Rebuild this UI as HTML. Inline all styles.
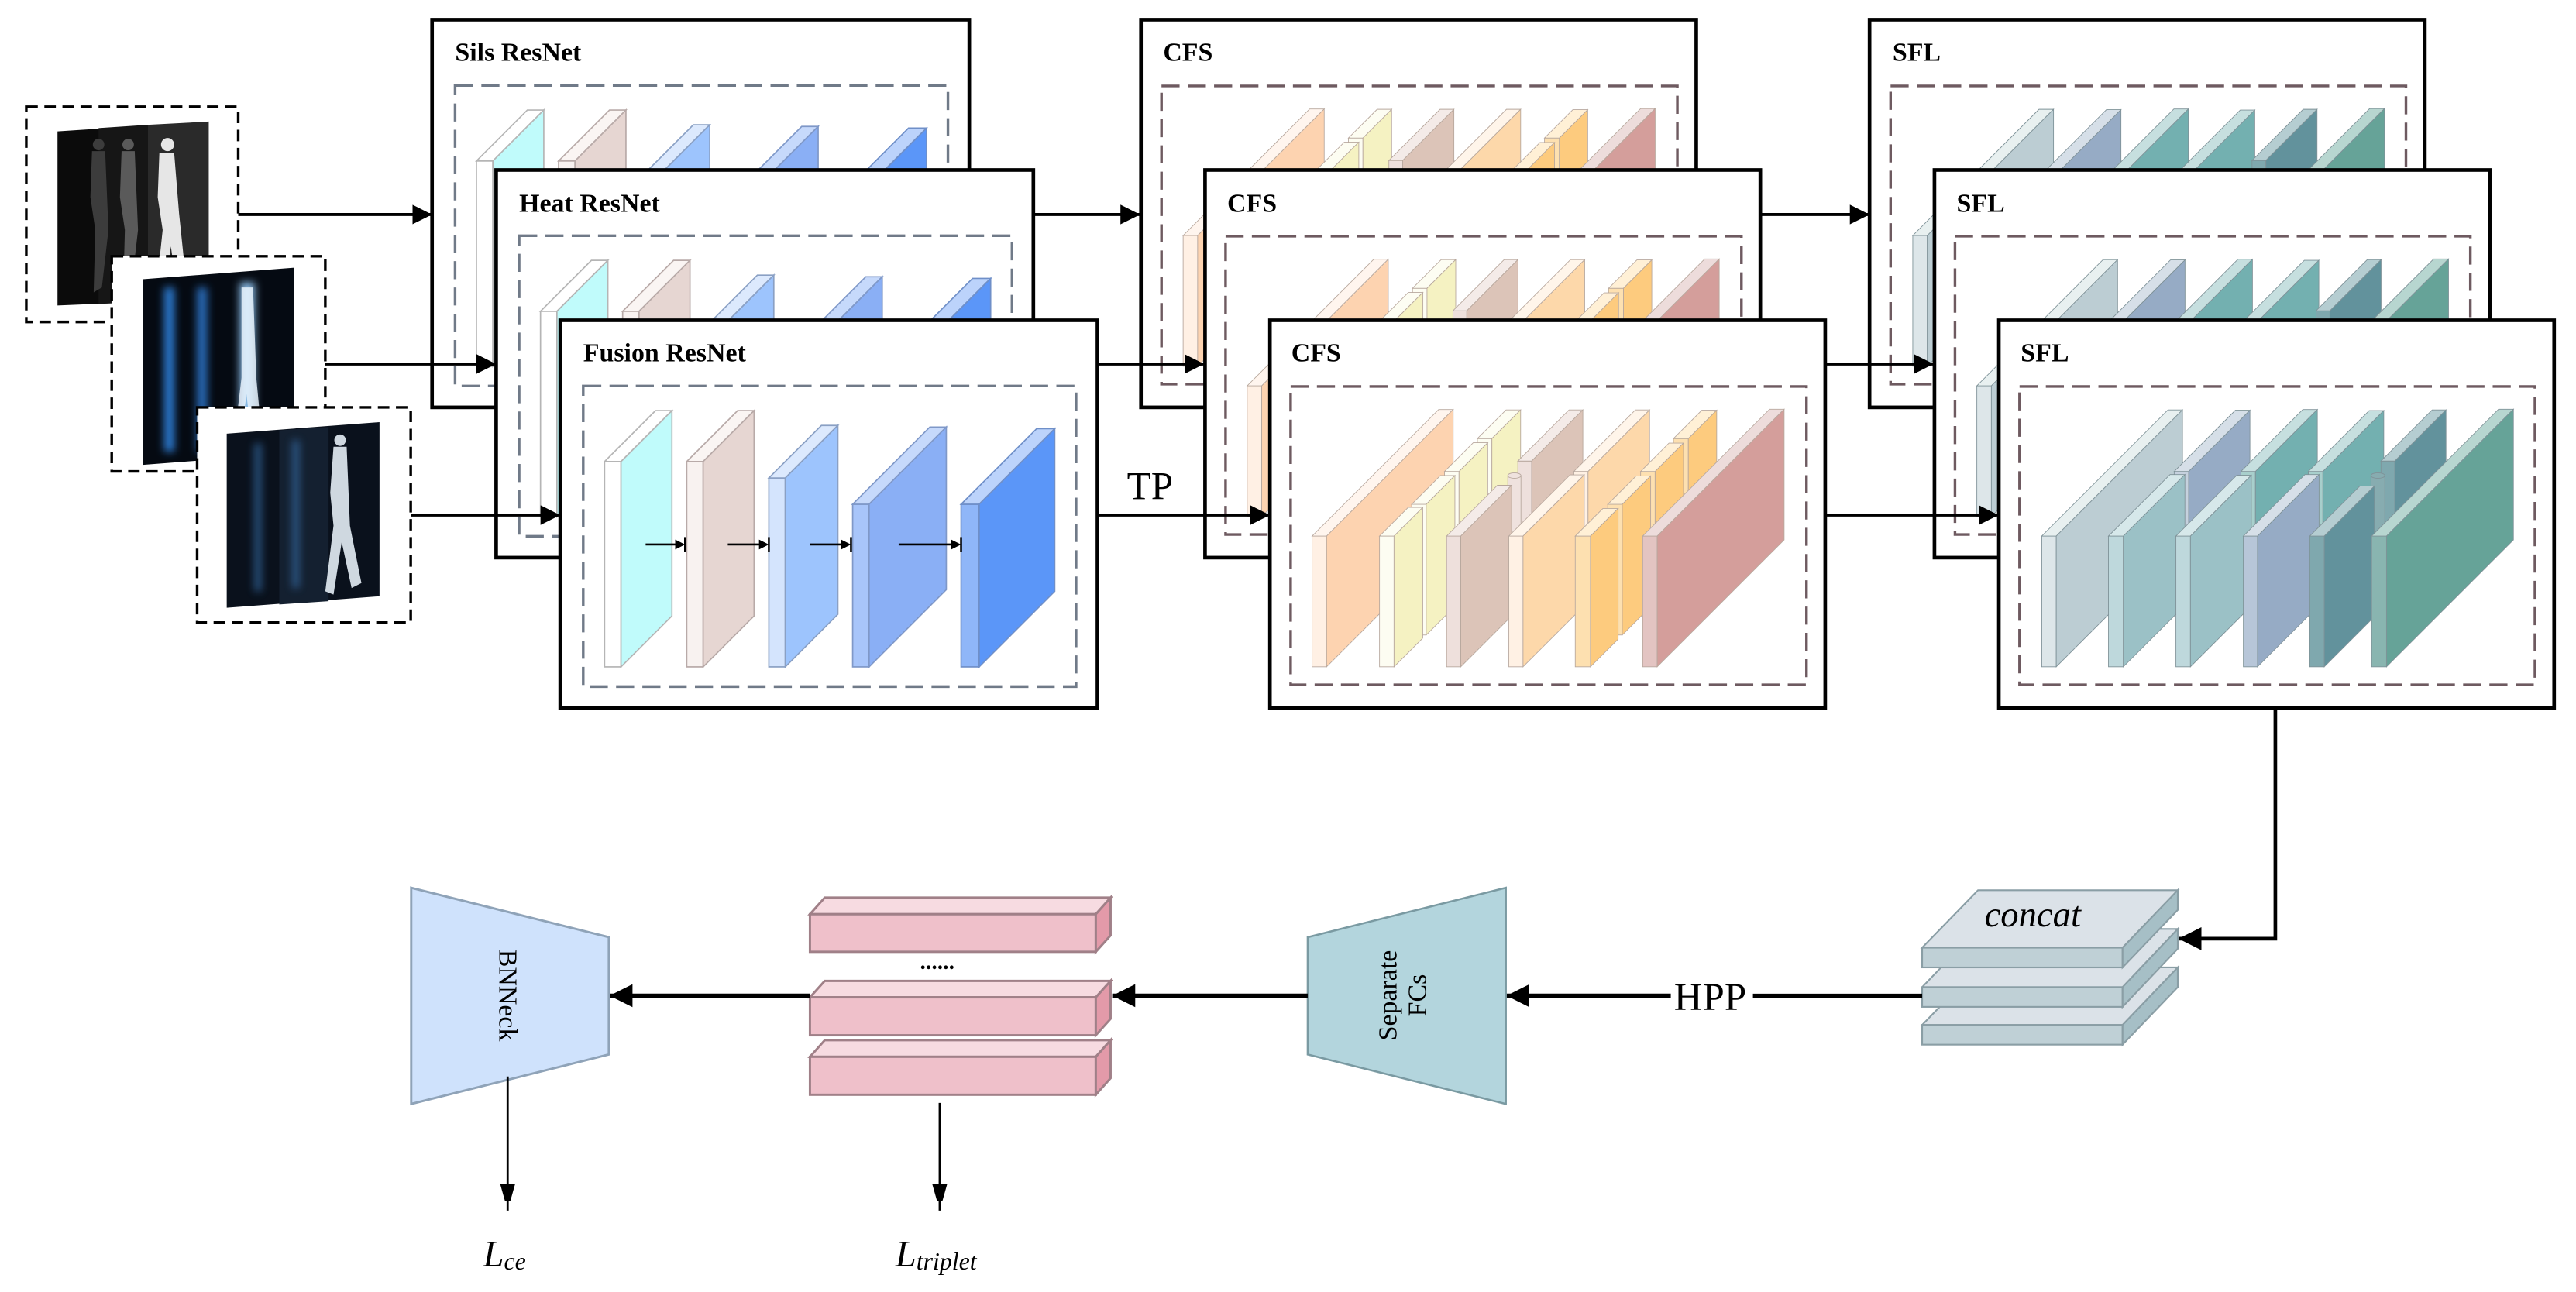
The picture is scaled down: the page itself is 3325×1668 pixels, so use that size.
<!DOCTYPE html>
<html><head><meta charset="utf-8"><style>
html,body{margin:0;padding:0;background:#fff;}
svg{display:block;}
text{font-family:"Liberation Serif",serif;}
</style></head><body>
<svg width="3325" height="1668" viewBox="0 0 1568 786.6" xmlns="http://www.w3.org/2000/svg">
<defs>
<marker id="ah" markerUnits="userSpaceOnUse" markerWidth="13" markerHeight="13" refX="12" refY="6" orient="auto"><path d="M0,0 L12,6 L0,12 z" fill="#000"/></marker>
<marker id="ahb" markerUnits="userSpaceOnUse" markerWidth="16" markerHeight="16" refX="14" refY="7" orient="auto"><path d="M0,0 L14,7 L0,14 z" fill="#000"/></marker>
<marker id="ahn" markerUnits="userSpaceOnUse" markerWidth="10" markerHeight="18" refX="16" refY="4.5" orient="auto"><path d="M0,0 L16,4.5 L0,9 z" fill="#000"/></marker>
<filter id="bl" x="-50%" y="-50%" width="200%" height="200%"><feGaussianBlur stdDeviation="2.5"/></filter>

<g id="rn" stroke-width="0.8">
 <g stroke="#b5b5b5"><rect x="368" y="281" width="10" height="125" fill="#ffffff"/><polygon points="368,281 399,250 409,250 378,281" fill="#ffffff"/><polygon points="378,281 409,250 409,375 378,406" fill="#c0fbfb"/></g>
 <g stroke="#b8aaa8"><rect x="418" y="281" width="10" height="125" fill="#f8f2f0"/><polygon points="418,281 449,250 459,250 428,281" fill="#faf5f3"/><polygon points="428,281 459,250 459,375 428,406" fill="#e6d6d2"/></g>
 <g stroke="#8aa0c4"><rect x="468" y="291" width="10" height="115" fill="#d4e4fd"/><polygon points="468,291 500,259 510,259 478,291" fill="#dce9fd"/><polygon points="478,291 510,259 510,374 478,406" fill="#9dc4fd"/></g>
 <g stroke="#7f98c8"><rect x="519" y="307" width="10" height="99" fill="#a8c5fa"/><polygon points="519,307 566,260 576,260 529,307" fill="#c6d9fb"/><polygon points="529,307 576,260 576,359 529,406" fill="#8aaff5"/></g>
 <g stroke="#6f8fc8"><rect x="585" y="307" width="11" height="99" fill="#8fb6f8"/><polygon points="585,307 631,261 642,261 596,307" fill="#bcd3fb"/><polygon points="596,307 642,261 642,360 596,406" fill="#5b96f8"/></g>
 <g stroke="#000" stroke-width="1.2">
  <line x1="393" y1="331.5" x2="413" y2="331.5"/><line x1="417" y1="327" x2="417" y2="336"/>
  <line x1="443" y1="331.5" x2="464" y2="331.5"/><line x1="468" y1="327" x2="468" y2="336"/>
  <line x1="493" y1="331.5" x2="514" y2="331.5"/><line x1="518" y1="327" x2="518" y2="336"/>
  <line x1="547" y1="331.5" x2="581" y2="331.5"/><line x1="585" y1="327" x2="585" y2="336"/>
 </g>
 <g fill="#000"><path d="M411,328.5 L417,331.5 L411,334.5z"/><path d="M462,328.5 L468,331.5 L462,334.5z"/><path d="M512,328.5 L518,331.5 L512,334.5z"/><path d="M579,328.5 L585,331.5 L579,334.5z"/></g>
</g>

<g id="cfs" transform="translate(773.4,226.4) scale(0.2105)" stroke="#b8a89e" stroke-width="2">
 <g><rect x="120" y="475" width="42" height="378" fill="#fff0e4"/><polygon points="120,475 486,109 528,109 162,475" fill="#fff5ee"/><polygon points="162,475 528,109 528,487 162,853" fill="#fdd3b0"/></g>
 <g>
  <rect x="598" y="193" width="42" height="378" fill="#fdfdf2"/><polygon points="598,193 681,110 723,110 640,193" fill="#fdfdf2"/><polygon points="640,193 723,110 723,488 640,571" fill="#f5f2c2"/>
  <rect x="503" y="288" width="42" height="378" fill="#fdfdf2"/><polygon points="503,288 586,205 628,205 545,288" fill="#fdfdf2"/><polygon points="545,288 628,205 628,583 545,666" fill="#f5f2c2"/>
  <rect x="408" y="383" width="42" height="378" fill="#fdfdf2"/><polygon points="408,383 491,300 533,300 450,383" fill="#fdfdf2"/><polygon points="450,383 533,300 533,678 450,761" fill="#f5f2c2"/>
  <rect x="315" y="475" width="42" height="378" fill="#fdfdf2"/><polygon points="315,475 398,392 440,392 357,475" fill="#fdfdf2"/><polygon points="357,475 440,392 440,770 357,853" fill="#f5f2c2"/>
 </g>
 <g>
  <rect x="715" y="258" width="40" height="378" fill="#eee0dc"/><polygon points="715,258 863,110 903,110 755,258" fill="#f4ebe8"/><polygon points="755,258 903,110 903,488 755,636" fill="#dcc4b8"/>
  <rect x="686" y="300" width="38" height="360" fill="#efe2de"/><ellipse cx="705" cy="300" rx="19" ry="8" fill="#efe2de"/>
  <rect x="509" y="475" width="41" height="378" fill="#eee0dc"/><polygon points="509,475 656,328 697,328 550,475" fill="#f4ebe8"/><polygon points="550,475 697,328 697,706 550,853" fill="#dcc4b8"/>
 </g>
 <g>
  <rect x="877" y="288" width="41" height="378" fill="#fff1e4"/><polygon points="877,288 1055,110 1096,110 918,288" fill="#fff5ea"/><polygon points="918,288 1096,110 1096,488 918,666" fill="#fdd8aa"/>
  <rect x="689" y="475" width="41" height="378" fill="#fff1e4"/><polygon points="689,475 866,298 907,298 730,475" fill="#fff5ea"/><polygon points="730,475 907,298 907,676 730,853" fill="#fdd8aa"/>
 </g>
 <g>
  <rect x="1165" y="193" width="43" height="378" fill="#fde0b0"/><polygon points="1165,193 1247,111 1290,111 1208,193" fill="#fff0d6"/><polygon points="1208,193 1290,111 1290,489 1208,571" fill="#fdcb7e"/>
  <rect x="1070" y="288" width="42" height="378" fill="#fde0b0"/><polygon points="1070,288 1152,206 1194,206 1112,288" fill="#fff0d6"/><polygon points="1112,288 1194,206 1194,584 1112,666" fill="#fdcb7e"/>
  <rect x="975" y="383" width="42" height="378" fill="#fde0b0"/><polygon points="975,383 1057,301 1099,301 1017,383" fill="#fff0d6"/><polygon points="1017,383 1099,301 1099,679 1017,761" fill="#fdcb7e"/>
  <rect x="881" y="475" width="44" height="378" fill="#fde0b0"/><polygon points="881,475 961,395 1005,395 925,475" fill="#fff0d6"/><polygon points="925,475 1005,395 1005,773 925,853" fill="#fdcb7e"/>
 </g>
 <g><rect x="1076" y="475" width="42" height="378" fill="#e3c4c2"/><polygon points="1076,475 1443,108 1485,108 1118,475" fill="#eddcdb"/><polygon points="1118,475 1485,108 1485,486 1118,853" fill="#d49e9b"/></g>
</g>

<g id="sfl" transform="translate(1216.7,226.4) scale(0.2105)" stroke="#7f9298" stroke-width="2">
 <g><rect x="124" y="475" width="42" height="378" fill="#dde6e9"/><polygon points="124,475 489,110 531,110 166,475" fill="#e8f0f0"/><polygon points="166,475 531,110 531,488 166,853" fill="#bccdd3"/></g>
 <g>
  <rect x="507" y="288" width="42" height="378" fill="#c6d1de"/><polygon points="507,288 684,111 726,111 549,288" fill="#d6dfe8"/><polygon points="549,288 726,111 726,489 549,666" fill="#96abc5"/>
  <rect x="317" y="475" width="43" height="378" fill="#bed8dc"/><polygon points="317,475 495,297 538,297 360,475" fill="#d6e8ea"/><polygon points="360,475 538,297 538,675 360,853" fill="#9bc1c6"/>
 </g>
 <g>
  <rect x="700" y="288" width="42" height="378" fill="#a8cfcc"/><polygon points="700,288 879,109 921,109 742,288" fill="#c6dfdf"/><polygon points="742,288 921,109 921,487 742,666" fill="#73b0b0"/>
  <rect x="512" y="475" width="42" height="378" fill="#bed8dc"/><polygon points="512,475 688,299 730,299 554,475" fill="#d6e8ea"/><polygon points="554,475 730,299 730,677 554,853" fill="#9bc1c6"/>
 </g>
 <g>
  <rect x="895" y="288" width="42" height="378" fill="#a8cfcc"/><polygon points="895,288 1071,112 1113,112 937,288" fill="#c6dfdf"/><polygon points="937,288 1113,112 1113,490 937,666" fill="#73b0b0"/>
  <rect x="707" y="475" width="41" height="378" fill="#b7c6d8"/><polygon points="707,475 885,297 926,297 748,475" fill="#d6dfe8"/><polygon points="748,475 926,297 926,675 748,853" fill="#96abc5"/>
 </g>
 <g>
  <rect x="1105" y="258" width="40" height="378" fill="#7fa8ae"/><polygon points="1105,258 1253,110 1293,110 1145,258" fill="#b5cdd1"/><polygon points="1145,258 1293,110 1293,488 1145,636" fill="#62929c"/>
  <rect x="1076" y="300" width="40" height="360" fill="#87acb0"/><ellipse cx="1096" cy="300" rx="20" ry="8" fill="#87acb0"/>
  <rect x="899" y="475" width="42" height="378" fill="#7fa8ae"/><polygon points="899,475 1044,330 1086,330 941,475" fill="#b5cdd1"/><polygon points="941,475 1086,330 1086,708 941,853" fill="#62929c"/>
 </g>
 <g><rect x="1078" y="475" width="43" height="378" fill="#89b5b0"/><polygon points="1078,475 1445,108 1488,108 1121,475" fill="#b7d6d0"/><polygon points="1121,475 1488,108 1488,486 1121,853" fill="#66a398"/></g>
</g>
</defs>

<!-- input images -->
<g>
 <rect x="16" y="65" width="129" height="131" fill="#fff" stroke="#000" stroke-width="1.6" stroke-dasharray="7,4"/>
 <polygon points="35,80 127,74 127,182 35,186" fill="#0b0b0b"/>
 <polygon points="60,78 90,76 90,184 60,185" fill="#161616"/>
 <polygon points="90,76 127,74 127,182 90,184" fill="#2a2a2a"/>
 <g fill="#3c3c3c"><circle cx="60" cy="88" r="3.5"/><path d="M56,92 L64,92 L66,140 L62,175 L57,178 L58,140 L55,120z"/></g>
 <g fill="#5a5a5a"><circle cx="78" cy="88" r="3.5"/><path d="M74,92 L82,92 L84,140 L80,175 L75,178 L76,140 L73,120z"/></g>
 <g fill="#e6e6e6"><circle cx="102" cy="88" r="4"/><path d="M97,93 L106,93 L109,130 L114,178 L108,178 L104,150 L100,180 L95,178 L99,140 L96,120z"/></g>

 <rect x="68" y="156" width="130" height="131" fill="#fff" stroke="#000" stroke-width="1.6" stroke-dasharray="7,4"/>
 <polygon points="87,170 179,163 179,276 87,283" fill="#050a12"/>
 <g filter="url(#bl)">
  <rect x="100" y="175" width="6" height="100" fill="#2f7fd8"/>
  <rect x="120" y="175" width="6" height="100" fill="#2a6fc0"/>
  <rect x="146" y="172" width="9" height="100" fill="#8fc3f0"/>
 </g>
 <g fill="#e8f2fb" opacity="0.85"><path d="M147,175 L154,175 L156,230 L160,272 L154,274 L150,240 L146,274 L142,272 L147,230z"/></g>

 <rect x="120" y="248" width="130" height="131" fill="#fff" stroke="#000" stroke-width="1.6" stroke-dasharray="7,4"/>
 <polygon points="138,264 231,257 231,363 138,370" fill="#0a111c"/>
 <polygon points="170,262 200,260 200,366 170,368" fill="#142030"/>
 <g filter="url(#bl)" opacity="0.7"><rect x="155" y="270" width="4" height="90" fill="#3a78b8"/><rect x="178" y="268" width="4" height="90" fill="#3a78b8"/></g>
 <g fill="#cfd8e0"><circle cx="207" cy="268" r="3.5"/><path d="M203,272 L211,272 L213,320 L220,355 L214,358 L208,330 L203,362 L198,360 L203,320 L201,300z"/></g>
</g>

<!-- LAYER 1 -->
<rect x="263" y="12" width="327" height="236" fill="#fff" stroke="#000" stroke-width="2.2"/>
<rect x="277" y="52" width="300" height="183" fill="none" stroke="#707a88" stroke-width="1.6" stroke-dasharray="11,5"/>
<text x="277" y="37" font-size="16" font-weight="bold">Sils ResNet</text>
<use href="#rn" transform="translate(-78,-183)"/>

<rect x="694.5" y="12" width="338" height="236" fill="#fff" stroke="#000" stroke-width="2.2"/>
<rect x="707" y="52.3" width="314" height="181.6" fill="none" stroke="#6e5a60" stroke-width="1.6" stroke-dasharray="11,5"/>
<text x="708" y="37" font-size="16" font-weight="bold">CFS</text>
<use href="#cfs" transform="translate(-78.5,-183)"/>

<rect x="1138" y="12" width="338" height="236" fill="#fff" stroke="#000" stroke-width="2.2"/>
<rect x="1150.8" y="52.3" width="313.7" height="181.6" fill="none" stroke="#6e5a60" stroke-width="1.6" stroke-dasharray="11,5"/>
<text x="1152" y="37" font-size="16" font-weight="bold">SFL</text>
<use href="#sfl" transform="translate(-78.5,-183)"/>

<g stroke="#000" stroke-width="1.8" fill="none">
 <line x1="145" y1="130.6" x2="263" y2="130.6" marker-end="url(#ah)"/>
 <line x1="590" y1="130.6" x2="694" y2="130.6" marker-end="url(#ah)"/>
 <line x1="1033" y1="130.6" x2="1138" y2="130.6" marker-end="url(#ah)"/>
</g>

<!-- LAYER 2 -->
<rect x="302" y="103.5" width="327" height="236" fill="#fff" stroke="#000" stroke-width="2.2"/>
<rect x="316" y="143.5" width="300" height="183" fill="none" stroke="#707a88" stroke-width="1.6" stroke-dasharray="11,5"/>
<text x="316" y="129" font-size="16" font-weight="bold">Heat ResNet</text>
<use href="#rn" transform="translate(-39,-91.5)"/>

<rect x="733.5" y="103.5" width="338" height="236" fill="#fff" stroke="#000" stroke-width="2.2"/>
<rect x="746" y="143.8" width="314" height="181.6" fill="none" stroke="#6e5a60" stroke-width="1.6" stroke-dasharray="11,5"/>
<text x="747" y="129" font-size="16" font-weight="bold">CFS</text>
<use href="#cfs" transform="translate(-39.5,-91.5)"/>

<rect x="1177.5" y="103.5" width="338" height="236" fill="#fff" stroke="#000" stroke-width="2.2"/>
<rect x="1190" y="143.8" width="313.7" height="181.6" fill="none" stroke="#6e5a60" stroke-width="1.6" stroke-dasharray="11,5"/>
<text x="1191" y="129" font-size="16" font-weight="bold">SFL</text>
<use href="#sfl" transform="translate(-39.5,-91.5)"/>

<g stroke="#000" stroke-width="1.8" fill="none">
 <line x1="198" y1="221.6" x2="302" y2="221.6" marker-end="url(#ah)"/>
 <line x1="629" y1="221.6" x2="733" y2="221.6" marker-end="url(#ah)"/>
 <line x1="1072" y1="221.6" x2="1177" y2="221.6" marker-end="url(#ah)"/>
</g>

<!-- LAYER 3 -->
<rect x="341" y="195" width="327" height="236" fill="#fff" stroke="#000" stroke-width="2.2"/>
<rect x="355" y="235" width="300" height="183" fill="none" stroke="#707a88" stroke-width="1.6" stroke-dasharray="11,5"/>
<text x="355" y="220" font-size="16" font-weight="bold">Fusion ResNet</text>
<use href="#rn"/>

<rect x="773" y="195" width="338" height="236" fill="#fff" stroke="#000" stroke-width="2.2"/>
<rect x="785.6" y="235.3" width="314" height="181.6" fill="none" stroke="#6e5a60" stroke-width="1.6" stroke-dasharray="11,5"/>
<text x="786" y="220" font-size="16" font-weight="bold">CFS</text>
<use href="#cfs"/>

<rect x="1216.7" y="195" width="338" height="236" fill="#fff" stroke="#000" stroke-width="2.2"/>
<rect x="1229.3" y="235.3" width="313.7" height="181.6" fill="none" stroke="#6e5a60" stroke-width="1.6" stroke-dasharray="11,5"/>
<text x="1230" y="220" font-size="16" font-weight="bold">SFL</text>
<use href="#sfl"/>

<g stroke="#000" stroke-width="1.8" fill="none">
 <line x1="250" y1="313.6" x2="341" y2="313.6" marker-end="url(#ah)"/>
 <line x1="668" y1="313.6" x2="773" y2="313.6" marker-end="url(#ah)"/>
 <line x1="1111" y1="313.6" x2="1216.5" y2="313.6" marker-end="url(#ah)"/>
</g>
<text x="686" y="304" font-size="24">TP</text>

<!-- SFL to concat -->
<polyline points="1385,431 1385,571.5 1326,571.5" fill="none" stroke="#000" stroke-width="2.2" marker-end="url(#ahb)"/>

<!-- concat stack -->
<g stroke="#8a9ea5" stroke-width="1">
 <polygon points="1170,624 1204,589 1325.6,589 1292,624" fill="#dbe2e8"/>
 <rect x="1170" y="624" width="122" height="12" fill="#bfd0d6"/>
 <polygon points="1292,624 1325.6,589 1325.6,601 1292,636" fill="#a6bfc6"/>
 <polygon points="1170,601 1204,565.6 1325.6,565.6 1292,601" fill="#dbe2e8"/>
 <rect x="1170" y="601" width="122" height="12" fill="#bfd0d6"/>
 <polygon points="1292,601 1325.6,565.6 1325.6,577.6 1292,613" fill="#a6bfc6"/>
 <polygon points="1170,577 1204,542 1325.6,542 1292,577" fill="#dbe2e8"/>
 <rect x="1170" y="577" width="122" height="12" fill="#bfd0d6"/>
 <polygon points="1292,577 1325.6,542 1325.6,554 1292,589" fill="#a6bfc6"/>
</g>
<text x="1208" y="564" font-size="22" font-style="italic">concat</text>

<!-- HPP -->
<line x1="1170" y1="606.2" x2="1067" y2="606.2" stroke="#000" stroke-width="2.4"/>
<text x="1019" y="615" font-size="24">HPP</text>
<line x1="1017" y1="606.2" x2="917" y2="606.2" stroke="#000" stroke-width="2.6" marker-end="url(#ahb)"/>

<!-- Separate FCs -->
<polygon points="796,570.6 916.6,540.5 916.6,672.1 796,642" fill="#b3d5dd" stroke="#7a9aa2" stroke-width="1.2"/>
<g transform="translate(856,606) rotate(-90)">
 <text x="0" y="-6" font-size="16" text-anchor="middle">Separate</text>
 <text x="0" y="12" font-size="16" text-anchor="middle">FCs</text>
</g>
<line x1="796" y1="606.2" x2="677" y2="606.2" stroke="#000" stroke-width="2.6" marker-end="url(#ahb)"/>

<!-- pink boxes -->
<g stroke="#a08088" stroke-width="1.4">
 <polygon points="493,556.6 502,546.5 676,546.5 667,556.6" fill="#f7dbe1"/>
 <rect x="493" y="556.6" width="174" height="22.9" fill="#efc0ca"/>
 <polygon points="667,556.6 676,546.5 676,569.5 667,579.5" fill="#e39aa9"/>
 <polygon points="493,607.2 502,597.2 676,597.2 667,607.2" fill="#f7dbe1"/>
 <rect x="493" y="607.2" width="174" height="23.1" fill="#efc0ca"/>
 <polygon points="667,607.2 676,597.2 676,620.3 667,630.3" fill="#e39aa9"/>
 <polygon points="493,643.4 502,633.3 676,633.3 667,643.4" fill="#f7dbe1"/>
 <rect x="493" y="643.4" width="174" height="23.1" fill="#efc0ca"/>
 <polygon points="667,643.4 676,633.3 676,656.4 667,666.5" fill="#e39aa9"/>
</g>
<text x="560" y="590" font-size="14" font-weight="bold">......</text>
<line x1="493" y1="606.2" x2="371" y2="606.2" stroke="#000" stroke-width="2.6" marker-end="url(#ahb)"/>

<!-- BNNeck -->
<polygon points="250.3,540.5 370.6,570.6 370.6,642 250.3,672.1" fill="#cfe2fc" stroke="#8fa3b8" stroke-width="1.4"/>
<text transform="translate(304,606) rotate(90)" font-size="16" text-anchor="middle">BNNeck</text>

<!-- outputs -->
<line x1="309" y1="655.4" x2="309" y2="737" stroke="#000" stroke-width="1.3" marker-end="url(#ahn)"/>
<line x1="572" y1="671.5" x2="572" y2="737" stroke="#000" stroke-width="1.3" marker-end="url(#ahn)"/>
<text x="294" y="771" font-size="23" font-style="italic">L<tspan font-size="15" dy="2">ce</tspan></text>
<text x="545" y="771" font-size="23" font-style="italic">L<tspan font-size="15" dy="2">triplet</tspan></text>
</svg>
</body></html>
